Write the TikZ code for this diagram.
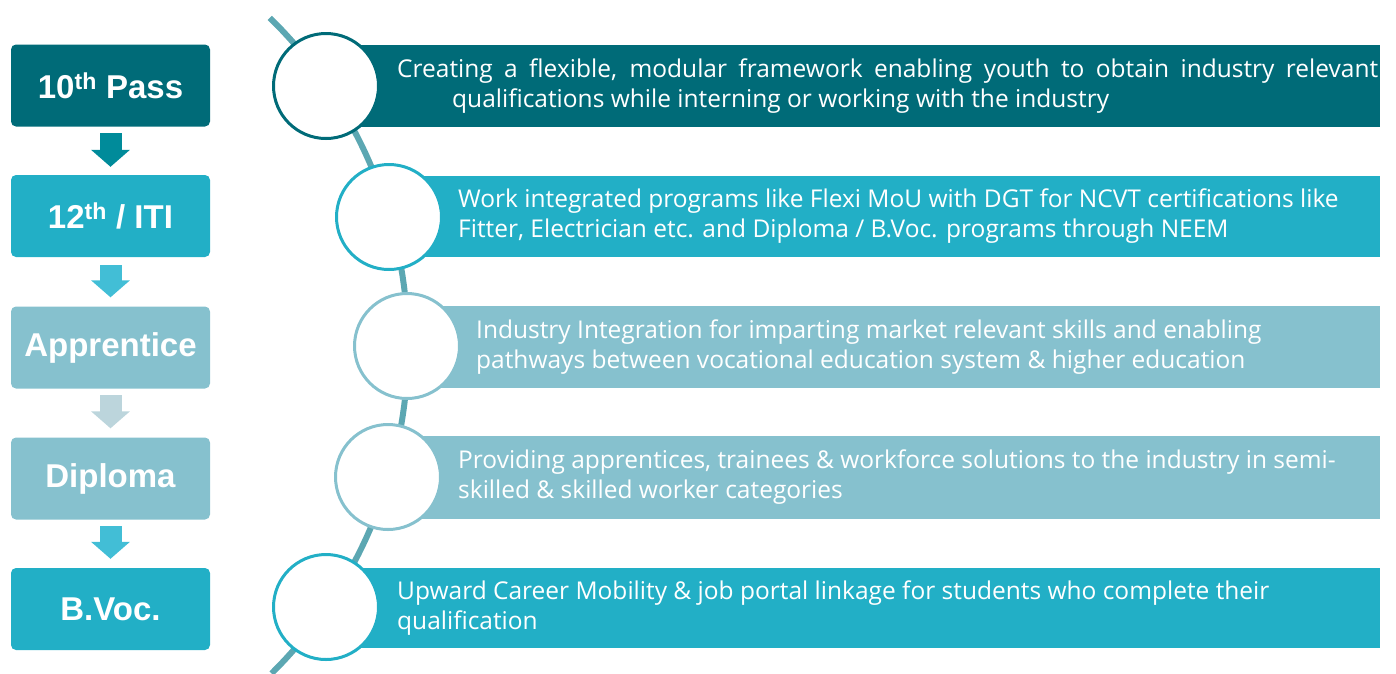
\documentclass[tikz,border=0pt]{standalone}
\usepackage{fontspec}
\setmainfont{Open Sans}
\newfontfamily\boxfont{Liberation Sans}
\usetikzlibrary{arrows.meta}
\definecolor{cdark}{HTML}{006B78}
\definecolor{cmid}{HTML}{22AFC6}
\definecolor{clight}{HTML}{86C1CE}
\definecolor{adark}{HTML}{008B9A}
\definecolor{amid}{HTML}{42BED6}
\definecolor{alight}{HTML}{BCD5DC}
\definecolor{cline}{HTML}{5CA7B2}
\tikzset{
  stage/.style={draw=none, fill=#1, rounded corners=5pt, minimum width=199pt, minimum height=82pt, inner sep=0pt,
    text=white, font=\boxfont\bfseries\fontsize{33}{36}\selectfont},
  flow/.style={draw=#1, line width=22pt, -{Triangle[width=38pt,length=17pt]}},
  bar/.style={fill=#1, draw=none},
  ring/.style={circle, draw=#1, line width=3pt, fill=white, minimum size=105pt, inner sep=0pt},
  bartext/.style={anchor=west, inner sep=0pt, align=left, text=white, font=\fontsize{24.5}{30}\selectfont},
}
\begin{document}
\begin{tikzpicture}[x=1pt, y=-1pt]
\useasboundingbox (0,0) rectangle (1396,673);
% left stages
\node[stage=cdark]  (b1) at (110.5,85.5) {10\textsuperscript{th} Pass};
\node[stage=cmid]   (b2) at (110.5,216) {12\textsuperscript{th} / ITI};
\node[stage=clight] (b3) at (110.5,347.5) {Apprentice};
\node[stage=clight] (b4) at (110.5,478.5) {Diploma};
\node[stage=cmid]   (b5) at (110.5,609) {B.Voc.};
\draw[flow=adark]  ([yshift=-6.5pt]b1.south) -- ([yshift=8pt]b2.north);
\draw[flow=amid]   ([yshift=-8pt]b2.south) -- ([yshift=9pt]b3.north);
\draw[flow=alight] ([yshift=-6.5pt]b3.south) -- ([yshift=9pt]b4.north);
\draw[flow=amid]   ([yshift=-6.5pt]b4.south) -- ([yshift=9pt]b5.north);
% arc line
\draw[cline, line width=6pt] plot[domain=-45.3:45.6, samples=80] ({-52+460*cos(\x)}, {346.5-460*sin(\x)});
% bars
\fill[cdark]  (326,45) rectangle (1380,127);
\fill[cmid]   (389,176) rectangle (1380,257);
\fill[clight] (407,306) rectangle (1380,388);
\fill[clight] (388,436) rectangle (1380,519);
\fill[cmid]   (326,568) rectangle (1380,648);
% circles
\node[ring=cdark]  (c1) at (326,86) {};
\node[ring=cmid]   (c2) at (389,217) {};
\node[ring=clight] (c3) at (407,346) {};
\node[ring=clight] (c4) at (388,477) {};
\node[ring=cmid]   (c5) at (326,607) {};
% texts
\node[bartext] (t1) at (397,86) {\makebox[981pt][s]{Creating a flexible, modular framework enabling youth to obtain industry relevant}\\\hspace*{55pt}qualifications while interning or working with the industry};
\node[bartext] (t2) at (458,216.5) {Work integrated programs like Flexi MoU with DGT for NCVT certifications like\\Fitter, Electrician etc. and Diploma / B.Voc. programs through NEEM};
\node[bartext] (t3) at (476,347) {Industry Integration for imparting market relevant skills and enabling\\pathways between vocational education system \& higher education};
\node[bartext] (t4) at (458,477.5) {Providing apprentices, trainees \& workforce solutions to the industry in semi-\\skilled \& skilled worker categories};
\node[bartext] (t5) at (397,608) {Upward Career Mobility \& job portal linkage for students who complete their\\qualification};
\end{tikzpicture}
\end{document}
